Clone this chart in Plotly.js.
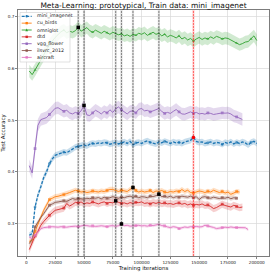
<!DOCTYPE html>
<html><head><meta charset="utf-8">
<script src="https://cdn.plot.ly/plotly-3.0.1.min.js"></script>
<style>html,body{margin:0;padding:0;background:#fff}#chart{width:274px;height:273px}</style>
</head><body><div id="chart"></div>
<script>
const iterations = [2500,5000,7500,10000,12500,15000,17500,20000,22500,25000,27500,30000,32500,35000,37500,40000,42500,45000,47500,50000,52500,55000,57500,60000,62500,65000,67500,70000,72500,75000,77500,80000,82500,85000,87500,90000,92500,95000,97500,100000,102500,105000,107500,110000,112500,115000,117500,120000,122500,125000,127500,130000,132500,135000,137500,140000,142500,145000,147500,150000,152500,155000,157500,160000,162500,165000,167500,170000,172500,175000,177500,180000,182500,185000,187500,190000,192500,195000,197500,200000];

const seriesNames = ['mini_imagenet','cu_birds','omniglot','dtd','vgg_flower','ilsvrc_2012','aircraft'];

const mini_imagenet = [0.2774,0.2806,0.332,0.355,0.371,0.389,0.400,0.416,0.425,0.432,0.434,0.436,0.438,0.437,0.440,0.444,0.448,0.449,0.451,0.452,0.450,0.4535,0.455,0.454,0.456,0.455,0.457,0.456,0.4535,0.455,0.457,0.454,0.456,0.458,0.455,0.459,0.452,0.456,0.457,0.455,0.458,0.460,0.457,0.456,0.454,0.458,0.456,0.459,0.457,0.455,0.458,0.456,0.457,0.455,0.458,0.459,0.461,0.4666,0.459,0.457,0.458,0.455,0.456,0.458,0.455,0.457,0.456,0.453,0.457,0.455,0.458,0.454,0.457,0.455,0.458,0.456,0.452,0.457,0.459,0.455];
const cu_birds = [0.2657,0.267,0.285,0.300,0.312,0.3257,0.337,0.3464,0.349,0.352,0.3528,0.355,0.356,0.358,0.360,0.362,0.3644,0.363,0.361,0.362,0.360,0.361,0.363,0.362,0.361,0.363,0.362,0.364,0.366,0.366,0.364,0.362,0.3644,0.363,0.362,0.366,0.3698,0.364,0.361,0.363,0.361,0.362,0.364,0.360,0.363,0.362,0.364,0.361,0.360,0.362,0.361,0.363,0.362,0.3658,0.362,0.3645,0.360,0.3592,0.361,0.363,0.362,0.360,0.3625,0.361,0.3644,0.362,0.360,0.362,0.3592,0.361,0.3566,0.359,0.362,0.361];
const omniglot = [0.595,0.588,0.597,0.606,0.615,0.626,0.637,0.646,0.653,0.660,0.665,0.671,0.674,0.669,0.672,0.670,0.673,0.6795,0.672,0.676,0.679,0.673,0.670,0.674,0.671,0.668,0.672,0.669,0.666,0.670,0.668,0.665,0.667,0.663,0.665,0.662,0.666,0.664,0.668,0.666,0.669,0.664,0.667,0.670,0.666,0.668,0.663,0.666,0.661,0.664,0.662,0.659,0.663,0.657,0.660,0.655,0.658,0.653,0.657,0.660,0.656,0.659,0.657,0.661,0.658,0.662,0.660,0.657,0.659,0.658,0.655,0.652,0.649,0.646,0.648,0.651,0.652,0.657,0.663,0.654];
const dtd = [0.2497,0.2644,0.276,0.285,0.2967,0.304,0.311,0.316,0.321,0.3257,0.327,0.3283,0.330,0.3387,0.334,0.337,0.341,0.340,0.3418,0.338,0.340,0.339,0.3418,0.340,0.338,0.3405,0.342,0.339,0.341,0.340,0.3439,0.341,0.339,0.340,0.338,0.3406,0.339,0.341,0.3405,0.342,0.339,0.340,0.338,0.3406,0.339,0.341,0.3387,0.340,0.338,0.3387,0.337,0.339,0.340,0.3374,0.339,0.336,0.338,0.3354,0.337,0.336,0.338,0.335,0.336,0.333,0.329,0.331,0.334,0.3374,0.335,0.3335,0.332,0.3354,0.333,0.331,0.332];
const vgg_flower = [0.412,0.398,0.445,0.490,0.501,0.503,0.505,0.511,0.518,0.523,0.524,0.520,0.517,0.519,0.514,0.512,0.515,0.513,0.518,0.5285,0.510,0.509,0.514,0.519,0.516,0.512,0.517,0.514,0.520,0.515,0.522,0.5255,0.520,0.516,0.512,0.517,0.518,0.514,0.521,0.5225,0.518,0.519,0.516,0.518,0.520,0.5225,0.517,0.513,0.515,0.513,0.517,0.5205,0.516,0.512,0.5115,0.514,0.516,0.513,0.515,0.512,0.513,0.5115,0.514,0.513,0.511,0.512,0.513,0.514,0.5135,0.514,0.512,0.508,0.5063,0.504,0.5013];
const ilsvrc_2012 = [0.2613,0.270,0.2935,0.303,0.312,0.319,0.328,0.3354,0.338,0.341,0.3418,0.343,0.344,0.343,0.346,0.3484,0.347,0.3484,0.348,0.347,0.349,0.348,0.350,0.349,0.3503,0.348,0.351,0.349,0.350,0.352,0.3503,0.349,0.351,0.350,0.352,0.353,0.351,0.3528,0.350,0.352,0.3515,0.350,0.353,0.352,0.354,0.3569,0.352,0.3528,0.351,0.353,0.350,0.352,0.351,0.353,0.352,0.351,0.353,0.350,0.352,0.3464,0.351,0.352,0.350,0.349,0.351,0.350,0.3484,0.350,0.349,0.351,0.348,0.350,0.349];
const aircraft = [0.274,0.271,0.2774,0.283,0.290,0.2922,0.2935,0.2935,0.294,0.2935,0.293,0.294,0.2935,0.293,0.294,0.2945,0.295,0.294,0.2955,0.2967,0.296,0.295,0.2955,0.2945,0.295,0.2958,0.295,0.294,0.2955,0.296,0.2945,0.296,0.2993,0.296,0.2967,0.295,0.2955,0.296,0.2967,0.2955,0.296,0.295,0.2967,0.296,0.2975,0.2987,0.296,0.2955,0.2935,0.2922,0.294,0.293,0.2903,0.292,0.2935,0.2925,0.294,0.2935,0.2945,0.2935,0.294,0.2967,0.2955,0.294,0.2925,0.2903,0.2915,0.2922,0.293,0.2922,0.2935,0.2925,0.2922,0.293,0.2925,0.292,0.2884];

const stdDevs = [0.006, 0.005, 0.012, 0.007, 0.012, 0.004, 0.003];
const bestIters = [145000, 92500, 45000, 77500, 50000, 115000, 82500];

const allSeries = [mini_imagenet, cu_birds, omniglot, dtd, vgg_flower, ilsvrc_2012, aircraft];
const colors = ['#1f77b4','#ff7f0e','#2ca02c','#d62728','#9467bd','#8c564b','#e377c2'];
const fills = ['rgba(31,119,180,0.25)','rgba(255,127,14,0.25)','rgba(44,160,44,0.22)','rgba(214,39,40,0.22)','rgba(148,103,189,0.25)','rgba(140,86,75,0.25)','rgba(227,119,194,0.25)'];
const symbols = ['circle','square','triangle-up','square','square','square','square'];

// plot area in pixels (for the hand-drawn legend box)
const W = 274, H = 273, ML = 18, MR = 5, MT = 10, MB = 17;
const pw = W - ML - MR, ph = H - MT - MB;
const px = x => (x - ML) / pw;
const py = y => 1 - (y - MT) / ph;

const bands = [], lines = [], shapes = [];
allSeries.forEach((vals, s) => {
  const xs = iterations.slice(0, vals.length);
  const sd = stdDevs[s];
  bands.push({x: xs, y: vals.map(v => v - sd), mode: 'lines', line: {width: 0, color: colors[s]}, showlegend: false, hoverinfo: 'skip'});
  bands.push({x: xs, y: vals.map(v => v + sd), mode: 'lines', line: {width: 0, color: colors[s]}, fill: 'tonexty', fillcolor: fills[s], showlegend: false, hoverinfo: 'skip'});
  lines.push({
    x: xs, y: vals, name: seriesNames[s], mode: 'lines+markers', showlegend: false,
    line: {color: colors[s], width: s === 0 ? 1.3 : 0.9, dash: s === 0 ? '3px,1.5px' : 'solid'},
    marker: {symbol: symbols[s], color: colors[s], size: vals.map((v, i) => (i % 5 === 2 ? 2.8 : 0)), line: {width: 0}}
  });
  const isTrain = s === 0;
  shapes.push({type: 'line', xref: 'x', yref: 'paper', x0: bestIters[s], x1: bestIters[s], y0: 0, y1: 1,
    line: {color: isTrain ? 'rgba(255,0,0,0.18)' : 'rgba(0,0,0,0.13)', width: 2.2}, layer: 'above'});
  shapes.push({type: 'line', xref: 'x', yref: 'paper', x0: bestIters[s], x1: bestIters[s], y0: 0, y1: 1,
    line: {color: isTrain ? 'rgba(255,0,0,0.75)' : 'rgba(0,0,0,0.6)', width: 0.7, dash: '2px,1px'}, layer: 'above'});
});

const bestY = allSeries.map((vals, s) => vals[iterations.indexOf(bestIters[s])]);
const bestTrace = {x: bestIters, y: bestY, mode: 'markers', showlegend: false, hoverinfo: 'skip',
  marker: {symbol: bestY.map((v, s) => s === 0 ? 'circle' : 'square'), size: 3.5,
    color: bestY.map((v, s) => s === 0 ? '#ff0000' : '#000000'), line: {width: 0}}};

// legend (drawn as shapes + text)
const annotations = [];
shapes.push({type: 'rect', xref: 'paper', yref: 'paper', x0: px(20), x1: px(70), y0: py(12.5), y1: py(62),
  fillcolor: 'rgba(255,255,255,0.85)', line: {color: '#cccccc', width: 0.6}, layer: 'above'});
seriesNames.forEach((name, s) => {
  const yy = 16.3 + s * 6.85;
  shapes.push({type: 'line', xref: 'paper', yref: 'paper', x0: px(21.7), x1: px(31.7), y0: py(yy), y1: py(yy),
    line: {color: colors[s], width: s === 0 ? 1.3 : 0.9, dash: s === 0 ? '3px,1.5px' : 'solid'}, layer: 'above'});
  if (symbols[s] === 'triangle-up') {
    shapes.push({type: 'path', xref: 'paper', yref: 'paper',
      path: `M ${px(25.3)} ${py(yy + 1.2)} L ${px(28.1)} ${py(yy + 1.2)} L ${px(26.7)} ${py(yy - 1.4)} Z`,
      fillcolor: colors[s], line: {width: 0}, layer: 'above'});
  } else if (symbols[s] === 'circle') {
    shapes.push({type: 'circle', xref: 'paper', yref: 'paper', x0: px(25.5), x1: px(27.9), y0: py(yy + 1.2), y1: py(yy - 1.2),
      fillcolor: colors[s], line: {width: 0}, layer: 'above'});
  } else {
    shapes.push({type: 'rect', xref: 'paper', yref: 'paper', x0: px(25.5), x1: px(27.9), y0: py(yy + 1.2), y1: py(yy - 1.2),
      fillcolor: colors[s], line: {width: 0}, layer: 'above'});
  }
  annotations.push({xref: 'paper', yref: 'paper', x: px(34.5), y: py(yy), xanchor: 'left', yanchor: 'middle',
    text: name, showarrow: false, font: {family: 'DejaVu Sans', size: 4.8, color: '#222'}});
});

const axisFont = {family: 'DejaVu Sans', size: 4.2, color: '#222'};
const layout = {
  width: W, height: H,
  margin: {l: ML, r: MR, t: MT, b: MB},
  paper_bgcolor: '#fff', plot_bgcolor: '#fff',
  font: {family: 'DejaVu Sans', color: '#222'},
  title: {text: 'Meta-Learning: prototypical, Train data: mini_imagenet', font: {family: 'DejaVu Sans', size: 7.5, color: '#111'},
    xref: 'paper', x: 0.5, xanchor: 'center', yref: 'container', y: 0.99, yanchor: 'top'},
  xaxis: {
    range: [-7300, 210600], tickvals: [0,25000,50000,75000,100000,125000,150000,175000,200000],
    ticktext: ['0','25000','50000','75000','100000','125000','150000','175000','200000'],
    tickfont: axisFont, ticks: 'outside', ticklen: 2, tickwidth: 0.6, tickcolor: '#333',
    showgrid: true, gridcolor: '#d8d8d8', gridwidth: 0.7, zeroline: false,
    showline: true, linecolor: '#444', linewidth: 0.7, mirror: true,
    title: {text: 'Training iterations', font: {family: 'DejaVu Sans', size: 5.5, color: '#111'}, standoff: 2}
  },
  yaxis: {
    range: [0.2373, 0.713], tickvals: [0.3,0.4,0.5,0.6,0.7], ticktext: ['0.3','0.4','0.5','0.6','0.7'],
    tickfont: axisFont, ticks: 'outside', ticklen: 2, tickwidth: 0.6, tickcolor: '#333',
    showgrid: true, gridcolor: '#d8d8d8', gridwidth: 0.7, zeroline: false,
    showline: true, linecolor: '#444', linewidth: 0.7, mirror: true,
    title: {text: 'Test Accuracy', font: {family: 'DejaVu Sans', size: 5.5, color: '#111'}, standoff: 2}
  },
  shapes: shapes,
  annotations: annotations,
  showlegend: false
};

Plotly.newPlot('chart', [...bands, ...lines, bestTrace], layout, {staticPlot: true, displayModeBar: false});
</script></body></html>
